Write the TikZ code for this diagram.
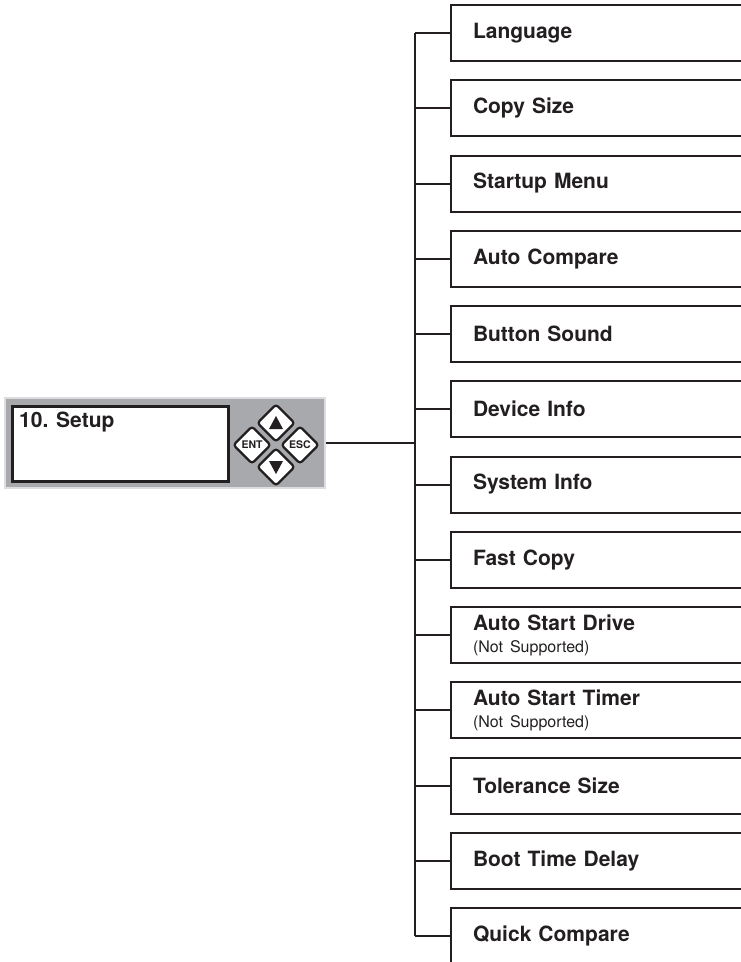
\documentclass[tikz,border=0pt]{standalone}
\usepackage{fontspec}
\setmainfont{TeX Gyre Heros}
\usetikzlibrary{shapes.geometric}
\definecolor{ink}{HTML}{231F20}
\definecolor{panelgray}{HTML}{A7A9AC}
\definecolor{paneledge}{HTML}{DCDDDE}
\begin{document}
\begin{tikzpicture}[x=1pt,y=-1pt,
  item/.style={draw=ink, line width=2pt, fill=white, anchor=north west,
    minimum height=56pt, text width=280pt, inner xsep=22pt, inner ysep=0pt,
    align=left, font=\bfseries\fontsize{21}{23}\selectfont, text=ink},
  conn/.style={draw=ink, line width=2pt},
  key/.style={diamond, aspect=1, draw=ink, line width=2.2pt, fill=white,
    rounded corners=3pt, minimum size=38pt, inner sep=0pt,
    font=\bfseries\fontsize{10.5}{12}\selectfont, text=ink}]
\useasboundingbox (0,0) rectangle (740,962);
% left panel
\node[draw=paneledge, line width=1.5pt, fill=panelgray, minimum width=320pt,
  minimum height=90pt, inner sep=0pt] (panel) at (165,443) {};
\node[draw=ink, line width=3pt, fill=white, minimum width=216pt,
  minimum height=75pt, inner sep=0pt] (lcd) at (120.5,444) {};
\node[anchor=base west, inner sep=0pt, text=ink,
  font=\bfseries\fontsize{21}{23}\selectfont] (title) at (19,427) {10. Setup};
\node[key] (up) at (276,423) {};
\node[key] (ent) at (252,445) {ENT};
\node[key] (esc) at (300,445) {ESC};
\node[key] (down) at (276,467) {};
\fill[ink] (up.center) ++(0,-7) -- ++(7,13) -- ++(-14,0) -- cycle;
\fill[ink] (down.center) ++(0,7) -- ++(7,-13) -- ++(-14,0) -- cycle;
% menu items
\node[item] (b1) at (450,4) {Language};
\node[item] (b2) at (450,79.25) {Copy Size};
\node[item] (b3) at (450,154.5) {Startup Menu};
\node[item] (b4) at (450,229.75) {Auto Compare};
\node[item] (b5) at (450,305) {Button Sound};
\node[item] (b6) at (450,380.25) {Device Info};
\node[item] (b7) at (450,455.5) {System Info};
\node[item] (b8) at (450,530.75) {Fast Copy};
\node[item] (b9) at (450,606) {Auto Start Drive\\[-1pt]{\mdseries\fontsize{16}{17}\selectfont (Not Supported)}};
\node[item] (b10) at (450,681.25) {Auto Start Timer\\[-1pt]{\mdseries\fontsize{16}{17}\selectfont (Not Supported)}};
\node[item] (b11) at (450,756.5) {Tolerance Size};
\node[item] (b12) at (450,831.75) {Boot Time Delay};
\node[item] (b13) at (450,907) {Quick Compare};
% connectors
\coordinate (trunk) at (415,0);
\draw[conn] (b1.west -| trunk) -- (b13.west -| trunk);
\foreach \i in {1,...,13} {
  \draw[conn] (b\i.west -| trunk) -- (b\i.west);
}
\draw[conn] (panel.east) -- (panel.east -| trunk);
\end{tikzpicture}
\end{document}
